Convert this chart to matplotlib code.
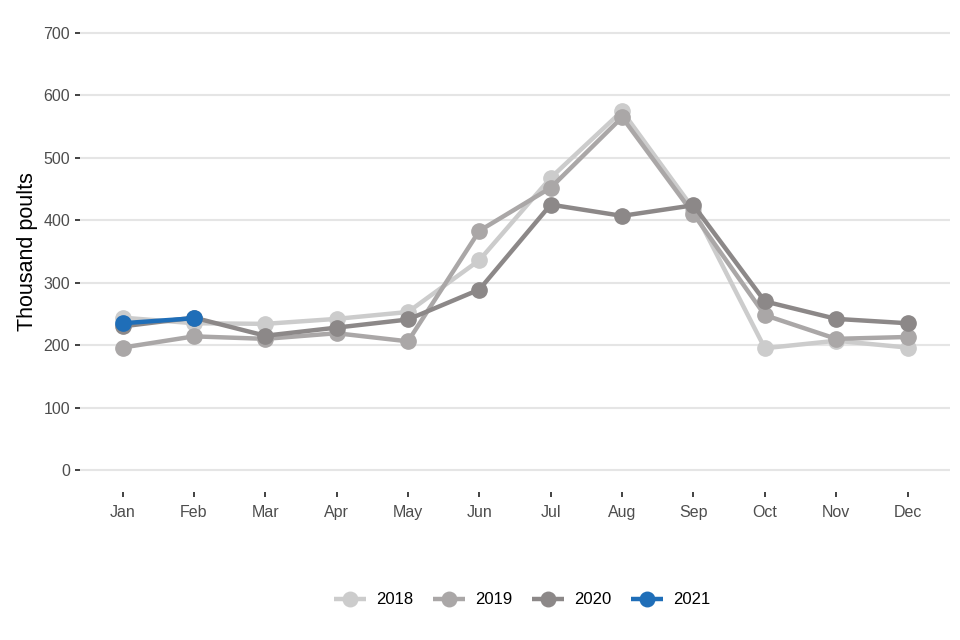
import matplotlib.pyplot as plt

months = ['Jan', 'Feb', 'Mar', 'Apr', 'May', 'Jun',
          'Jul', 'Aug', 'Sep', 'Oct', 'Nov', 'Dec']

poults_2018 = [244, 235, 234, 242, 253, 336, 468, 575, 418, 195, 207, 196]
poults_2019 = [196, 214, 210, 219, 206, 383, 452, 565, 410, 248, 210, 213]
poults_2020 = [230, 244, 215, 228, 241, 289, 425, 407, 424, 270, 242, 235]
poults_2021 = [235, 243]

series = [('2018', poults_2018, '#CCCCCC'),
          ('2019', poults_2019, '#AAA7A7'),
          ('2020', poults_2020, '#8C8888'),
          ('2021', poults_2021, '#1F6EB8')]

plt.rcParams['font.family'] = ['Liberation Sans', 'DejaVu Sans']

fig = plt.figure(figsize=(9.6, 6.4), dpi=100)
ax = fig.add_axes([0.083, 1 - 491.8 / 640, 0.907, 480.7 / 640])

for name, values, colour in series:
    x = list(range(len(values)))
    ax.plot(x, values, color=colour, linewidth=3.2, marker='o',
            markersize=11, label=name, solid_capstyle='butt')

ax.set_xlim(-0.6, 11.6)
ax.set_ylim(-35, 735)
ax.set_xticks(range(12))
ax.set_xticklabels(months)
ax.set_yticks(range(0, 701, 100))

for side in ['top', 'right', 'left', 'bottom']:
    ax.spines[side].set_visible(False)
ax.grid(axis='y', color='#E5E5E5', linewidth=1.5)
ax.set_axisbelow(True)
ax.tick_params(axis='both', colors='#333333', labelcolor='#4D4D4D',
               labelsize=11.5, length=3.5, width=1.3)
ax.tick_params(axis='x', pad=6)

ax.set_ylabel('Thousand poults', fontsize=15.5, color='black', labelpad=4)

# legend along the bottom
fig.legend(loc='center', bbox_to_anchor=(0.544, 1 - 600 / 640),
           ncol=4, frameon=False, fontsize=12, handlelength=1.9,
           columnspacing=1.2, handletextpad=0.6, markerscale=0.95)

fig.savefig('out.png', dpi=100)
